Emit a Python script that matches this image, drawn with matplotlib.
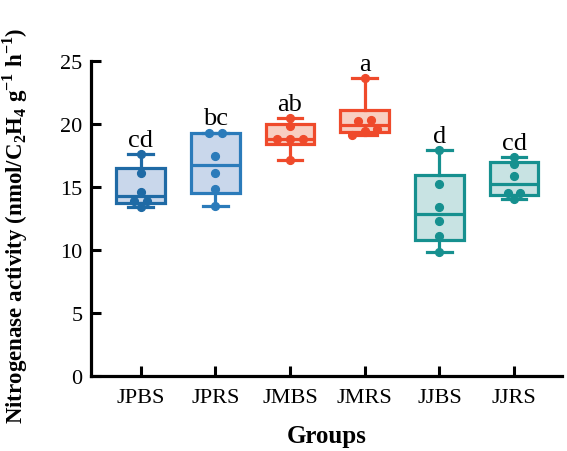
import numpy as np
import matplotlib
matplotlib.use("Agg")
import matplotlib.pyplot as plt

plt.rcParams['font.family'] = ['Liberation Serif', 'DejaVu Serif']
plt.rcParams['mathtext.fontset'] = 'custom'
plt.rcParams['mathtext.rm'] = 'Liberation Serif'
plt.rcParams['mathtext.bf'] = 'Liberation Serif:bold'

groups = ["JPBS", "JPRS", "JMBS", "JMRS", "JJBS", "JJRS"]
letters = ["cd", "bc", "ab", "a", "d", "cd"]

jpbs = [17.6, 16.06, 14.6, 13.9, 13.84, 13.36]
jprs = [19.3, 19.3, 17.46, 16.06, 14.82, 13.49]
jmbs = [20.43, 19.84, 18.79, 18.79, 18.79, 17.12]
jmrs = [23.6, 20.3, 20.25, 19.6, 19.45, 19.1]
jjbs = [17.94, 15.21, 13.39, 12.3, 11.06, 9.79]
jjrs = [17.38, 16.8, 15.87, 14.48, 14.48, 14.02]
values = [jpbs, jprs, jmbs, jmrs, jjbs, jjrs]

edge_colors = ["#1f6aa5", "#2b7bba", "#ef4a2b", "#ef4a2b", "#16908f", "#16908f"]
fill_colors = ["#c9d7eb", "#c9d7eb", "#f8cfc2", "#f8cfc2", "#c8e3e3", "#c8e3e3"]


def box_stats(v):
    # Prism-style quartiles, (n+1)p positions
    q1, med, q3 = np.percentile(v, [25, 50, 75], method="weibull")
    return dict(med=med, q1=q1, q3=q3, whislo=min(v), whishi=max(v), fliers=[])


def spread(v, tol=0.4, step=0.17):
    # horizontal offsets so that dots of near-equal value sit side by side
    v = np.asarray(v)
    order = np.argsort(v)
    offs = np.zeros(len(v))
    clusters, cur = [], [order[0]]
    for i in order[1:]:
        if v[i] - v[cur[-1]] < tol:
            cur.append(i)
        else:
            clusters.append(cur)
            cur = [i]
    clusters.append(cur)
    for c in clusters:
        n = len(c)
        for k, idx in enumerate(c):
            offs[idx] = (k - (n - 1) / 2) * step
    return offs


fig = plt.figure(figsize=(5.67, 4.52), dpi=100)
ax = fig.add_axes([0.1605, 0.1666, 0.8305, 0.6969])

pos = np.arange(1, len(groups) + 1)
for i, v in enumerate(values):
    st = box_stats(v)
    ec = edge_colors[i]
    ax.bxp([st], positions=[pos[i]], widths=0.65, patch_artist=True,
           showfliers=False,
           boxprops=dict(facecolor=fill_colors[i], edgecolor=ec, linewidth=2.3),
           medianprops=dict(color=ec, linewidth=2.3),
           whiskerprops=dict(color=ec, linewidth=2.3),
           capprops=dict(color=ec, linewidth=2.3),
           capwidths=0.33)
    ax.plot(pos[i] + spread(v), v, 'o', color=ec, markersize=5.6, zorder=5)
    ax.text(pos[i], max(v) + 0.25, letters[i], ha='center', va='bottom', fontsize=19)

ax.set_xlim(0.335, 6.64)
ax.set_ylim(0, 25)
ax.set_yticks([0, 5, 10, 15, 20, 25])
ax.set_xticks(pos)
ax.set_xticklabels(groups)
ax.tick_params(direction='in', length=7, width=2.2, labelsize=16, colors='black')
ax.tick_params(axis='x', pad=9)
ax.tick_params(axis='y', pad=6)
for s in ['top', 'right']:
    ax.spines[s].set_visible(False)
for s in ['left', 'bottom']:
    ax.spines[s].set_linewidth(2.3)

ax.set_xlabel("Groups", fontsize=18, fontweight='bold', labelpad=12)
ax.set_ylabel(r"Nitrogenase activity (nmol/C$_\mathbf{2}$H$_\mathbf{4}$ g$^{\mathbf{-1}}$ h$^{\mathbf{-1}}$)",
              fontsize=16.5, fontweight='bold')
ax.yaxis.set_label_coords(-0.13, 0.478)

fig.savefig("out.png", dpi=100)
